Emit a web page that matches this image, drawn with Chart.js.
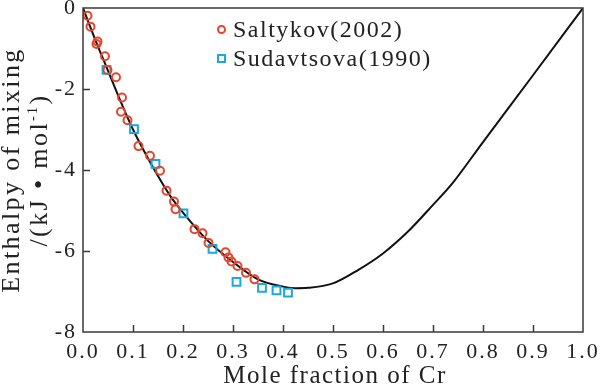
<!DOCTYPE html>
<html>
<head>
<meta charset="utf-8">
<script src="https://cdn.jsdelivr.net/npm/chart.js@4"></script>
<style>
  html, body { margin: 0; padding: 0; background: #fff; }
  #wrap { width: 600px; height: 387px; }
</style>
</head>
<body>
<div id="wrap"><canvas id="c" width="600" height="387"></canvas></div>
<script>
const saltykovX = [0.009, 0.015, 0.029, 0.027, 0.044, 0.049, 0.066, 0.078, 0.076, 0.089, 0.111, 0.134, 0.154, 0.167, 0.182, 0.185, 0.223, 0.239, 0.251, 0.285, 0.291, 0.297, 0.309, 0.326, 0.343];
const saltykovY = [-0.19, -0.46, -0.83, -0.89, -1.19, -1.53, -1.71, -2.21, -2.56, -2.77, -3.41, -3.65, -4.02, -4.51, -4.78, -4.97, -5.46, -5.56, -5.80, -6.03, -6.16, -6.26, -6.37, -6.54, -6.70];
const sudavX = [0.047, 0.102, 0.145, 0.201, 0.259, 0.307, 0.358, 0.387, 0.410];
const sudavY = [-1.53, -2.99, -3.85, -5.07, -5.95, -6.76, -6.91, -6.97, -7.03];
// 계산 곡선
const curveX = [0, 0.025, 0.05, 0.075, 0.1, 0.125, 0.15, 0.175, 0.2, 0.25, 0.3, 0.35, 0.4, 0.425, 0.45, 0.5, 0.55, 0.6, 0.65, 0.7, 0.74, 0.8, 0.9, 1.0];
const curveY = [0, -0.8, -1.55, -2.3, -3.0, -3.6, -4.15, -4.65, -5.05, -5.75, -6.27, -6.7, -6.88, -6.92, -6.91, -6.8, -6.47, -6.06, -5.52, -4.86, -4.31, -3.31, -1.66, 0];

const xTicks = [0, 0.1, 0.2, 0.3, 0.4, 0.5, 0.6, 0.7, 0.8, 0.9, 1.0];
const yTicks = [0, -2, -4, -6, -8];

const FONT = "'Liberation Serif', 'Times New Roman', serif";
const RED = "#e5452c";
const BLUE = "#1ba8e0";
const AXIS = "#3a3a3a";
const TEXT = "#222";

const pts = (xs, ys) => xs.map((x, i) => ({ x, y: ys[i] }));

// 글자 간격을 준 회전 텍스트 (가운데 정렬)
function spacedWidth(ctx, s) {
  return ctx.measureText(s).width;
}

// 축 테두리, 안쪽 눈금, 축 제목, 범례를 그리는 플러그인
const framePlugin = {
  id: "frame",
  beforeDraw(chart) {
    chart.ctx.letterSpacing = "2px";
  },
  afterDraw(chart) {
    const { ctx, chartArea: a, scales } = chart;
    ctx.save();
    ctx.strokeStyle = AXIS;
    ctx.lineWidth = 1.5;
    ctx.strokeRect(a.left, a.top, a.right - a.left, a.bottom - a.top);
    ctx.beginPath();
    xTicks.slice(1, -1).forEach((v) => {
      const px = Math.round(scales.x.getPixelForValue(v)) + 0.5;
      ctx.moveTo(px, a.bottom);
      ctx.lineTo(px, a.bottom - 7);
    });
    yTicks.slice(1, -1).forEach((v) => {
      const py = Math.round(scales.y.getPixelForValue(v)) + 0.5;
      ctx.moveTo(a.left, py);
      ctx.lineTo(a.left + 7, py);
    });
    ctx.stroke();

    ctx.fillStyle = TEXT;
    ctx.textBaseline = "alphabetic";
    ctx.textAlign = "left";

    // 가로축 제목
    ctx.font = `25px ${FONT}`;
    ctx.letterSpacing = "1.5px";
    let w = spacedWidth(ctx, "Mole fraction of Cr");
    ctx.fillText("Mole fraction of Cr", 335 - w / 2, 383);

    // 세로축 제목 (두 줄)
    ctx.letterSpacing = "2.4px";
    ctx.save();
    ctx.translate(19, 170);
    ctx.rotate(-Math.PI / 2);
    ctx.font = `26px ${FONT}`;
    w = spacedWidth(ctx, "Enthalpy of mixing");
    ctx.fillText("Enthalpy of mixing", -w / 2, 0);
    ctx.restore();

    ctx.save();
    ctx.translate(47, 170);
    ctx.rotate(-Math.PI / 2);
    const main = "/(kJ \u2022 mol";
    ctx.font = `26px ${FONT}`;
    const w1 = ctx.measureText(main).width;
    const w3 = ctx.measureText(")").width;
    ctx.font = `14px ${FONT}`;
    const w2 = ctx.measureText("-1").width;
    const x0 = -(w1 + w2 + w3) / 2;
    ctx.font = `26px ${FONT}`;
    ctx.fillText(main, x0, 0);
    ctx.fillText(")", x0 + w1 + w2, 0);
    ctx.font = `14px ${FONT}`;
    ctx.fillText("-1", x0 + w1, -10);
    ctx.restore();

    // 범례
    ctx.lineWidth = 2;
    ctx.strokeStyle = RED;
    ctx.beginPath();
    ctx.arc(221.5, 29.5, 3.5, 0, Math.PI * 2);
    ctx.stroke();
    ctx.strokeStyle = BLUE;
    ctx.strokeRect(218, 55, 7, 7);
    ctx.fillStyle = TEXT;
    ctx.font = `24px ${FONT}`;
    ctx.letterSpacing = "1.5px";
    ctx.fillText("Saltykov(2002)", 233, 37);
    ctx.fillText("Sudavtsova(1990)", 233, 66);
    ctx.restore();
  },
};

new Chart(document.getElementById("c"), {
  type: "scatter",
  data: {
    datasets: [
      {
        type: "line",
        label: "calc",
        data: pts(curveX, curveY),
        borderColor: "#111",
        borderWidth: 2,
        pointRadius: 0,
        cubicInterpolationMode: "monotone",
        fill: false,
        order: 3,
      },
      {
        label: "Saltykov(2002)",
        data: pts(saltykovX, saltykovY),
        borderColor: RED,
        backgroundColor: "rgba(0,0,0,0)",
        borderWidth: 2,
        pointRadius: 4,
        pointStyle: "circle",
        order: 1,
      },
      {
        label: "Sudavtsova(1990)",
        data: pts(sudavX, sudavY),
        borderColor: BLUE,
        backgroundColor: "rgba(0,0,0,0)",
        borderWidth: 2,
        pointRadius: 5.5,
        pointStyle: "rect",
        order: 2,
      },
    ],
  },
  options: {
    responsive: false,
    animation: false,
    layout: { padding: { top: 8, right: 17, left: 0, bottom: 0 } },
    plugins: { legend: { display: false }, tooltip: { enabled: false } },
    scales: {
      x: {
        type: "linear",
        min: 0,
        max: 1,
        afterBuildTicks: (s) => { s.ticks = xTicks.map((v) => ({ value: v })); },
        afterFit: (s) => { s.height = 55; s.paddingLeft = 0; s.paddingRight = 0; },
        grid: { display: false, drawTicks: false },
        border: { display: false },
        ticks: {
          padding: 7,
          color: TEXT,
          font: { family: FONT, size: 22 },
          callback: (v) => v.toFixed(1),
          maxRotation: 0,
          autoSkip: false,
        },
      },
      y: {
        type: "linear",
        min: -8,
        max: 0,
        afterBuildTicks: (s) => { s.ticks = yTicks.map((v) => ({ value: v })); },
        afterFit: (s) => { s.width = 83; s.paddingTop = 0; s.paddingBottom = 0; },
        grid: { display: false, drawTicks: false },
        border: { display: false },
        ticks: {
          padding: 6,
          color: TEXT,
          font: { family: FONT, size: 22 },
          callback: (v) => String(v),
        },
      },
    },
  },
  plugins: [framePlugin],
});
</script>
</body>
</html>
